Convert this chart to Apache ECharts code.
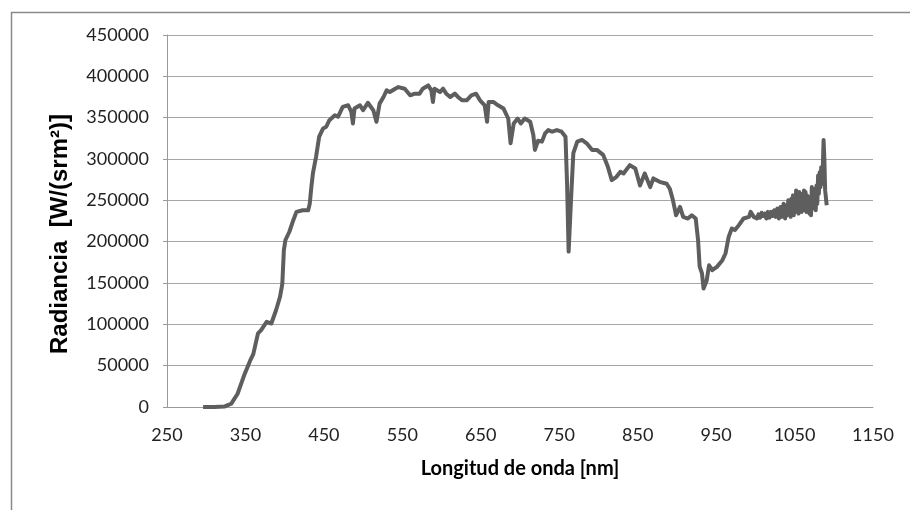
<!DOCTYPE html>
<html>
<head>
<meta charset="utf-8">
<script src="https://cdn.jsdelivr.net/npm/echarts@6/dist/echarts.min.js"></script>
<style>
  html, body { margin: 0; padding: 0; background: #ffffff; }
  #chart { width: 910px; height: 510px; }
</style>
</head>
<body>
<div id="chart"></div>
<script>
// Wavelength samples [nm]
const wavelength = [
  296, 310, 323, 332, 340, 349, 356, 360, 366, 370, 377, 383, 389, 394, 397, 399, 401, 406, 411, 415,
  423, 430, 432, 434, 436, 440, 444, 449, 453, 457, 464, 468, 474, 481, 485, 487, 489, 496, 500, 506,
  513, 517, 521, 526, 530, 534, 541, 545, 553, 560, 566, 572, 576, 583, 587, 589, 591, 598, 602, 606,
  611, 617, 621, 626, 632, 638, 644, 649, 655, 658, 660, 666, 672, 679, 685, 688, 692, 697, 701, 706,
  713, 717, 719, 723, 728, 732, 736, 741, 747, 753, 758, 760, 762, 765, 768, 773, 779, 785, 792, 798,
  806, 812, 817, 823, 828, 832, 840, 847, 853, 859, 866, 870, 878, 887, 891, 895, 899, 904, 908, 914,
  919, 924, 927, 929, 932, 934, 938, 941, 945, 951, 958, 962, 966, 970, 974, 979, 985, 992, 994, 998,
  1000, 1002, 1004, 1006, 1008, 1010, 1012, 1014, 1016, 1018, 1020, 1022, 1024, 1026, 1028, 1030, 1032, 1034, 1036, 1038,
  1040, 1041, 1042, 1043, 1044, 1045, 1046, 1047, 1048, 1049, 1050, 1051, 1052, 1053, 1054, 1055, 1056, 1057, 1058, 1059,
  1060, 1061, 1062, 1063, 1064, 1065, 1066, 1067, 1068, 1069, 1070, 1071, 1072, 1073, 1074, 1075, 1076, 1077, 1078, 1079,
  1080, 1081, 1082, 1083, 1084, 1085, 1086, 1087, 1088, 1089, 1091
];

// Radiance [W/(sr m2)]
const radiance = [
  0, 0, 500, 4000, 16000, 40000, 56000, 64000, 89000, 93000, 103000, 101000, 117000, 133000, 149000, 190000, 202000, 212000, 226000, 236000,
  238000, 238000, 246000, 266000, 282500, 302600, 327000, 337000, 339000, 347000, 353000, 351000, 363000, 365000, 357000, 343000, 361000, 365000, 359000, 368000,
  359000, 345000, 367000, 375000, 383000, 381000, 385000, 387000, 385000, 377000, 379000, 379000, 385000, 389000, 383000, 369000, 385000, 381000, 385000, 379000,
  375000, 379000, 375000, 371000, 371000, 377000, 379000, 371000, 365000, 345000, 369000, 369000, 365000, 361000, 349000, 319000, 343000, 349000, 343000, 349000,
  345000, 329000, 311000, 322000, 321000, 331000, 335000, 333000, 335000, 333000, 327000, 270000, 188000, 250000, 307000, 321000, 323000, 319000, 311000, 311000,
  305000, 290500, 274500, 278500, 284500, 282500, 292600, 288600, 268000, 282500, 266000, 276500, 272400, 270000, 264000, 250000, 232000, 242000, 230000, 228000,
  232000, 228000, 202000, 170000, 161500, 143300, 153000, 171500, 165500, 169500, 177600, 185700, 205800, 216000, 214000, 220000, 228000, 230000, 236000, 230000,
  232000, 228000, 233000, 229000, 235000, 231000, 234000, 228000, 236000, 229000, 236000, 231000, 238000, 230000, 240000, 228000, 242000, 230000, 246000, 228000,
  244000, 232000, 250000, 234000, 248000, 230000, 252000, 236000, 256000, 232000, 254000, 238000, 262000, 236000, 258000, 234000, 260000, 240000, 256000, 236000,
  258000, 240000, 262000, 238000, 260000, 236000, 256000, 240000, 252000, 234000, 254000, 232000, 266000, 240000, 264000, 244000, 262000, 238000, 268000, 246000,
  280000, 258000, 284000, 266000, 290000, 270000, 288000, 323000, 300000, 262000, 244000
];

// Axis ticks
const xTicks = [250, 350, 450, 550, 650, 750, 850, 950, 1050, 1150];
const yTicks = [0, 50000, 100000, 150000, 200000, 250000, 300000, 350000, 400000, 450000];

const xName = 'Longitud de onda [nm]';
const yName = 'Radiancia  [W/(srm²)]';

const points = wavelength.map((w, i) => [w, radiance[i]]);

const chart = echarts.init(document.getElementById('chart'), null, { renderer: 'canvas' });

chart.setOption({
  animation: false,
  backgroundColor: '#ffffff',
  graphic: [{
    type: 'rect',
    left: 9, top: 10,
    shape: { width: 910, height: 510 },
    style: { fill: 'none', stroke: '#8a8a8a', lineWidth: 1.5 },
    silent: true
  }],
  grid: { left: 167, right: 37, top: 35, bottom: 103 },
  xAxis: {
    type: 'value',
    min: xTicks[0],
    max: xTicks[xTicks.length - 1],
    interval: xTicks[1] - xTicks[0],
    name: xName,
    nameLocation: 'middle',
    nameGap: 52,
    nameTextStyle: { fontFamily: 'Lato', fontWeight: 'bold', fontSize: 20, color: '#000' },
    axisLine: { show: true, onZero: false, lineStyle: { color: '#9a9a9a', width: 1 } },
    axisTick: { show: false },
    axisLabel: { margin: 19, fontFamily: 'Lato', fontSize: 18, color: '#222', formatter: v => String(v) },
    splitLine: { show: false }
  },
  yAxis: {
    type: 'value',
    min: yTicks[0],
    max: yTicks[yTicks.length - 1],
    interval: yTicks[1] - yTicks[0],
    name: yName,
    nameLocation: 'middle',
    nameGap: 95,
    nameRotate: 90,
    nameTextStyle: { fontFamily: 'Liberation Sans', fontWeight: 'bold', fontSize: 24, color: '#000', padding: [0, 26, 0, 0] },
    axisLine: { show: true, lineStyle: { color: '#9a9a9a', width: 1 } },
    axisTick: { show: true, length: 4, inside: false, lineStyle: { color: '#9a9a9a' } },
    axisLabel: { margin: 18, fontFamily: 'Lato', fontSize: 18, color: '#222', formatter: v => String(v) },
    splitLine: { show: true, lineStyle: { color: '#a6a6a6', width: 1 } }
  },
  series: [{
    type: 'line',
    data: points,
    showSymbol: false,
    symbol: 'none',
    smooth: false,
    lineStyle: { color: '#5e5e5e', width: 4, join: 'round' },
    z: 3
  }]
});
</script>
</body>
</html>
